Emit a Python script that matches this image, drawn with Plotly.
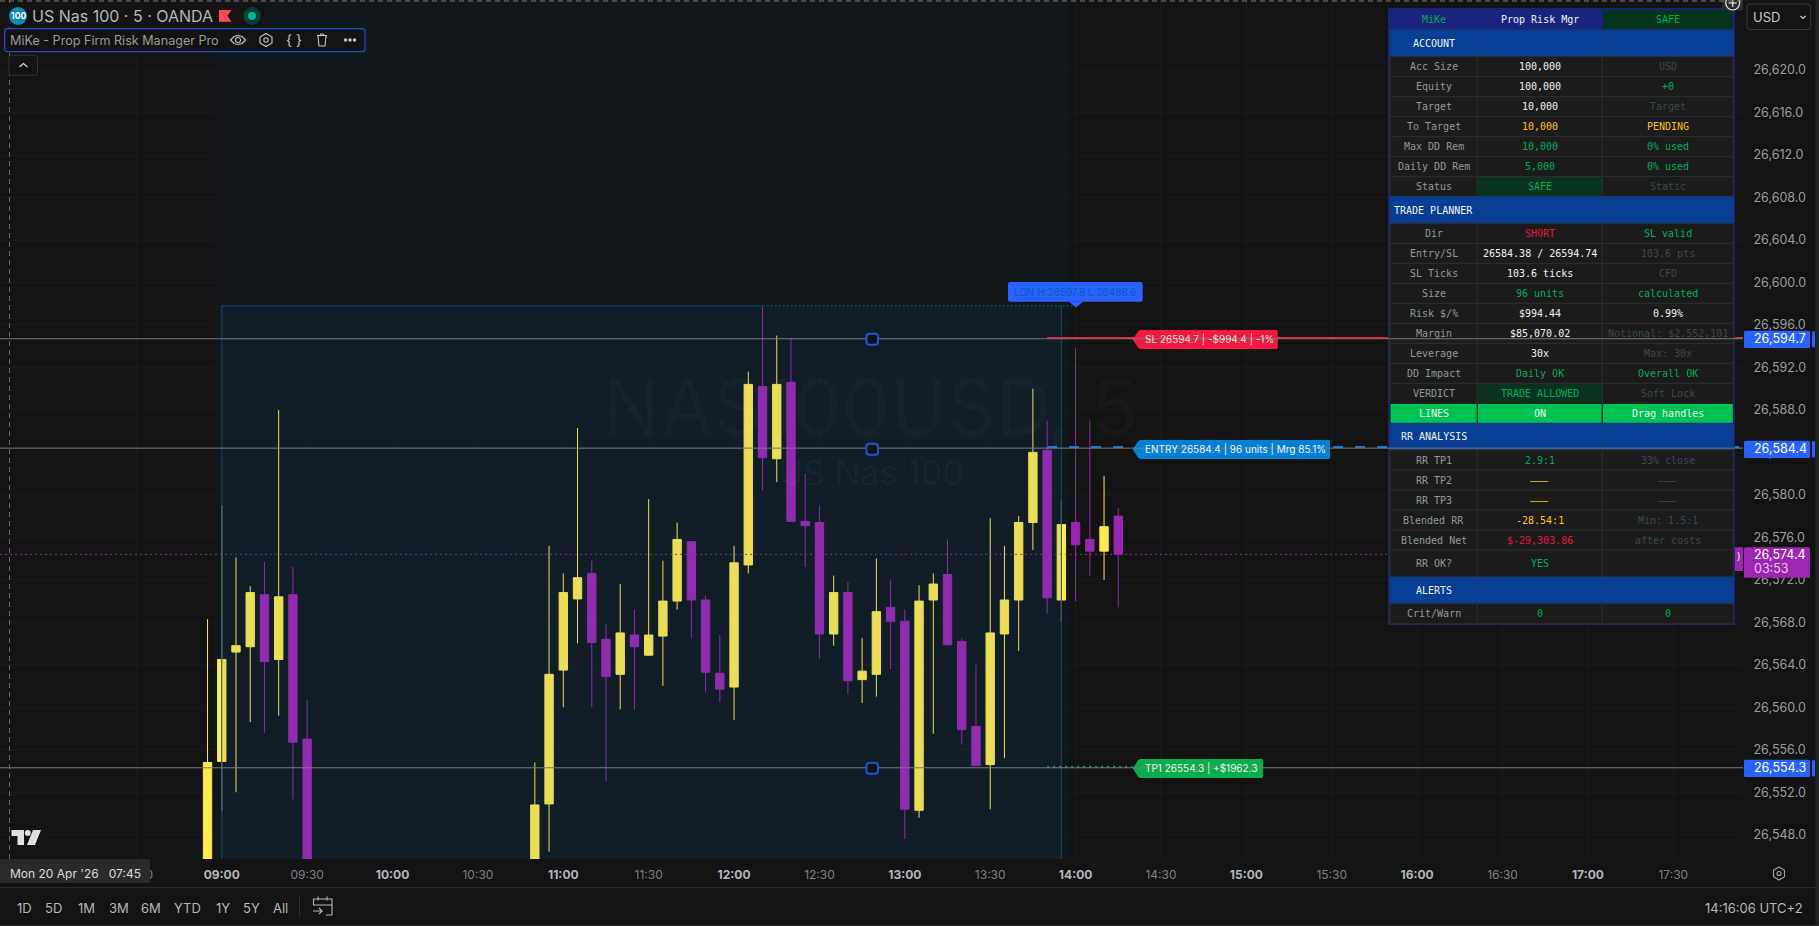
import plotly.graph_objects as go

bar_times = ["08:55","09:00","09:05","09:10","09:15","09:20","09:25","09:30",
 "10:50","10:55","11:00","11:05","11:10","11:15","11:20","11:25","11:30","11:35","11:40","11:45","11:50","11:55",
 "12:00","12:05","12:10","12:15","12:20","12:25","12:30","12:35","12:40","12:45","12:50","12:55",
 "13:00","13:05","13:10","13:15","13:20","13:25","13:30","13:35","13:40","13:45","13:50","13:55",
 "14:00","14:05","14:10","14:15"]
opens = [26543.8,26554.9,26565.2,26565.7,26570.6,26564.5,26570.6,26557.0,
 26543.8,26550.9,26563.5,26570.2,26572.6,26566.4,26563.1,26566.8,26564.9,26566.7,26570.0,26575.6,26570.1,26563.2,
 26561.9,26573.4,26590.2,26583.4,26590.6,26577.5,26577.4,26566.9,26570.8,26562.6,26563.1,26569.4,
 26568.1,26550.3,26570.1,26572.5,26566.2,26558.2,26554.6,26566.9,26570.1,26577.4,26584.2,26570.1,
 26577.4,26575.8,26574.7,26578.0]
highs = [26568.3,26579.0,26574.1,26571.4,26573.7,26588.0,26573.2,26560.7,
 26554.8,26575.2,26572.6,26586.3,26573.8,26567.8,26571.6,26569.2,26579.6,26573.8,26577.4,26575.6,26570.5,26566.8,
 26575.2,26591.6,26597.7,26595.0,26594.8,26582.0,26579.0,26572.4,26571.8,26566.5,26574.0,26572.0,
 26569.2,26571.5,26572.6,26575.8,26566.5,26564.0,26577.8,26575.2,26578.0,26590.0,26587.0,26579.5,
 26593.8,26587.0,26581.8,26578.8]
lows = [26543.0,26550.2,26552.0,26558.6,26557.6,26559.2,26551.3,26543.0,
 26543.0,26546.4,26560.0,26566.0,26560.0,26553.0,26559.8,26559.8,26564.9,26562.0,26569.2,26566.5,26561.4,26560.5,
 26558.8,26572.6,26580.4,26581.2,26577.5,26573.2,26564.6,26565.8,26561.2,26560.4,26561.0,26563.6,
 26547.6,26549.6,26557.5,26565.8,26556.5,26554.5,26550.4,26555.2,26565.3,26574.8,26568.8,26568.0,
 26570.0,26572.4,26572.0,26569.4]
closes = [26554.8,26564.5,26565.8,26570.8,26564.3,26570.4,26556.7,26543.8,
 26550.8,26563.1,26570.8,26572.2,26566.1,26562.9,26567.0,26565.7,26566.8,26570.0,26575.8,26570.1,26563.3,26561.7,
 26573.6,26590.4,26583.5,26590.4,26577.5,26577.1,26566.9,26570.8,26562.5,26563.4,26569.0,26568.1,
 26550.4,26570.0,26571.6,26565.9,26557.9,26554.5,26567.0,26570.1,26577.4,26584.0,26570.3,26577.2,
 26575.3,26574.7,26577.0,26574.4]
time_ticks = ["08:30","09:00","09:30","10:00","10:30","11:00","11:30","12:00","12:30","13:00","13:30",
              "14:00","14:30","15:00","15:30","16:00","16:30","17:00","17:30"]
price_ticks = [26548,26552,26556,26560,26564,26568,26572,26576,26580,26584,26588,26592,26596,26600,26604,26608,26612,26616,26620]
price_sl, price_entry, price_tp, price_last = 26594.7, 26584.4, 26554.3, 26574.4
session_high, session_low = 26597.8, 26486.6

row_labels = ["MiKe","ACCOUNT","Acc Size","Equity","Target","To Target","Max DD Rem","Daily DD Rem","Status",
 "TRADE PLANNER","Dir","Entry/SL","SL Ticks","Size","Risk $/%","Margin","Leverage","DD Impact","VERDICT","LINES",
 "RR ANALYSIS","RR TP1","RR TP2","RR TP3","Blended RR","Blended Net","RR OK?","ALERTS","Crit/Warn"]
row_values = ["Prop Risk Mgr","","100,000","100,000","10,000","10,000","10,000","5,000","SAFE",
 "","SHORT","26584.38 / 26594.74","103.6 ticks","96 units","$994.44","$85,070.02","30x","Daily OK","TRADE ALLOWED","ON",
 "","2.9:1","———","———","-28.54:1","$-29,303.86","YES","","0"]
row_notes = ["SAFE","","USD","+0","Target","PENDING","0% used","0% used","Static",
 "","SL valid","103.6 pts","CFD","calculated","0.99%","Notional: $2,552,101","Max: 30x","Overall OK","Soft Lock","Drag handles",
 "","33% close","———","———","Min: 1.5:1","after costs","","","0"]
row_kinds = ["title","section"]+["normal"]*7+["section"]+["normal"]*9+["lines","section"]+["normal"]*5+["tall","section","normal"]
value_colors = ["w","w","w","w","w","y","g","g","g","w","r","w","w","g","w","w","w","g","g","w","w","g","y","y","y","r","g","w","g"]
note_colors = ["g","w","d","g","d","y","g","g","d","w","g","d","d","g","w","d","d","g","d","w","w","d","d","d","d","d","d","w","g"]

W, H = 1819, 926
PW, PH = 1743, 859
BG = "#131313"
UI = "Inter, Roboto, sans-serif"
MONO = "DejaVu Sans Mono, monospace"
DAY = "2026-04-20 "
COL = {"w":"#F2F2F2","y":"#FFC21A","g":"#00AE52","r":"#E8163C","d":"#3A4A54"}

def X(p): return p/W
def Y(p): return 1-p/H

shapes, notes = [], []

def rect(x0,y0,x1,y1,fill,line=None,lw=1):
    shapes.append(dict(type="rect",xref="paper",yref="paper",x0=X(x0),y0=Y(y0),x1=X(x1),y1=Y(y1),layer="above",
                       fillcolor=fill,line=dict(color=line or "rgba(0,0,0,0)",width=lw if line else 0)))
def circ(cx,cy,r,fill="rgba(0,0,0,0)",line=None,lw=1):
    shapes.append(dict(type="circle",xref="paper",yref="paper",x0=X(cx-r),y0=Y(cy-r),x1=X(cx+r),y1=Y(cy+r),layer="above",
                       fillcolor=fill,line=dict(color=line or "rgba(0,0,0,0)",width=lw if line else 0)))
def poly(pts,fill="rgba(0,0,0,0)",line=None,lw=1,closed=True):
    d="M"+" L".join(f"{X(a):.6f},{Y(b):.6f}" for a,b in pts)+(" Z" if closed else "")
    shapes.append(dict(type="path",xref="paper",yref="paper",path=d,layer="above",fillcolor=fill,
                       line=dict(color=line or "rgba(0,0,0,0)",width=lw if line else 0)))
def rrect(x0,y0,x1,y1,r,fill,line=None,lw=1):
    P=lambda a,b:f"{X(a):.6f},{Y(b):.6f}"
    d=(f"M{P(x0+r,y0)} L{P(x1-r,y0)} Q{P(x1,y0)} {P(x1,y0+r)} L{P(x1,y1-r)} Q{P(x1,y1)} {P(x1-r,y1)} "
       f"L{P(x0+r,y1)} Q{P(x0,y1)} {P(x0,y1-r)} L{P(x0,y0+r)} Q{P(x0,y0)} {P(x0+r,y0)} Z")
    shapes.append(dict(type="path",xref="paper",yref="paper",path=d,layer="above",fillcolor=fill,
                       line=dict(color=line or "rgba(0,0,0,0)",width=lw if line else 0)))
def txt(px,py,s,size,color,anchor="left",family=UI):
    notes.append(dict(xref="paper",yref="paper",x=X(px),y=Y(py),text=s,showarrow=False,xanchor=anchor,yanchor="middle",
                      font=dict(size=size,color=color,family=family),borderpad=0))
def hline(y,x0,x1,color,width=1,dash="solid",layer="above"):
    shapes.append(dict(type="line",xref="x",yref="y",x0=x0,x1=x1,y0=y,y1=y,layer=layer,line=dict(color=color,width=width,dash=dash)))

t_left, t_right = DAY+"07:42:05", DAY+"17:54:30"

# session shading and box
shapes.append(dict(type="rect",xref="x",yref="paper",x0=DAY+"08:57:30",x1=DAY+"13:57:30",y0=Y(PH),y1=1,layer="below",
                   fillcolor="#10181B",line=dict(width=0)))
shapes.append(dict(type="rect",xref="x",yref="y",x0=DAY+"09:00",x1=DAY+"13:55",y0=session_low,y1=session_high,layer="above",
                   fillcolor="rgba(40,110,190,0.085)",line=dict(width=0)))
for t in ("09:00","13:55"):
    shapes.append(dict(type="line",xref="x",yref="y",x0=DAY+t,x1=DAY+t,y0=session_low,y1=session_high,layer="above",
                       line=dict(color="#0D4A75",width=1)))
hline(session_high,DAY+"09:00",DAY+"12:10","#0D4A75")
hline(session_high,DAY+"12:10",DAY+"14:00","#0D5F96",1,"2px,2px")

# price and trade lines
hline(price_last,t_left,t_right,"#8E2AA0",1,"2px,3px")
hline(price_sl+0.08,DAY+"13:50",t_right,"#F2173F",2)
hline(price_entry+0.1,DAY+"13:50",t_right,"#0C7EDB",2,"10px,12px")
hline(price_tp+0.1,DAY+"13:50",DAY+"14:20","#0F9D58",2,"2px,4px")

# risk panel
rect(1388,8,1735,625,"#1A237E")
colx=[1390,1477.3,1602.3,1733.3]
centers=[(colx[i]+colx[i+1])/2 for i in range(3)]
height={"title":20.7,"section":26.7,"normal":20,"lines":20,"tall":27}
y=9.3
for lab,val,note,kind,vc,nc in zip(row_labels,row_values,row_notes,row_kinds,value_colors,note_colors):
    h=height[kind]
    fills=["#1C1C1C"]*3
    edge="#2E2E2E"
    lc,vcol,ncol="#8E9A9A",COL[vc],COL[nc]
    if kind=="title":
        fills=["#1A237E","#1A237E","#06351F"]; edge="#1A237E"; lc=COL["g"]
    elif kind=="section":
        fills=["#063F94"]*3; edge="#173B78"; lc="#F2F2F2"
    elif kind=="lines":
        fills=["#00C255"]*3; edge="#1C1C1C"; lc=vcol=ncol="#F2F2F2"
    if val in ("SAFE","TRADE ALLOWED"):
        fills[1]="#0A3322"
    for i in range(3):
        rect(colx[i],y,colx[i+1],y+h,fills[i],edge,1)
    cy=y+h/2
    txt(centers[0],cy,lab,10,lc,"center",MONO)
    if val: txt(centers[1],cy,val,10,vcol,"center",MONO)
    if note: txt(centers[2],cy,note,10,ncol,"center",MONO)
    y+=h

# trade labels
def tag(x1,y0,y1,fill):
    poly([(1132.7,(y0+y1)/2),(1138,y0+1.5),(1140,y0),(x1-1,y0),(x1,y0+1),(x1,y1-1),(x1-1,y1),(1140,y1),(1138,y1-1.5)],fill)
tag(1277.7,330,349,"#F5173F"); txt(1143.5,338.8,"SL 26594.7 | -$994.4 | -1%",10,"#F5E6E8")
tag(1330,440,459,"#0480D8"); txt(1143.5,449,"ENTRY 26584.4 | 96 units | Mrg 85.1%",10,"#E6F2FA")
tag(1263,759,778,"#09AD50"); txt(1143.5,768.3,"TP1 26554.3 | +$1962.3",10,"#E6F5EC")
rrect(1008,282,1142.7,301.7,2,"#2962FF")
poly([(1069,301.7),(1083,301.7),(1076,307.5)],"#2962FF")
txt(1012.7,292,"LDN H:26597.8 L:26486.6",10,"#005FB8")

# horizontal tool lines and handles
for p in (price_sl,price_entry,price_tp):
    hline(p,t_left,t_right,"#7A7A7A",1)
for py in (339.3,449.3,768.3):
    rrect(866.5,py-5.5,878,py+5.5,3,BG,"#1A55D6",2)

# axis panel badges
for p,py in ((price_sl,339.3),(price_entry,449.3),(price_tp,768.3)):
    rrect(1744,py-8.6,1810,py+8.6,1.5,"#2962FF")
    rect(1812,py-8,1815,py+8,"#2962FF")
    txt(1752.7,py-1,f"{p:,.1f}",12.5,"#FFFFFF")
rect(1735,547.3,1743,571,"#9C27B0")
txt(1736,555.5,")",10,"#F0F0F0")
rrect(1744,547.3,1810,577.7,1.5,"#9C27B0")
txt(1752.7,554.5,f"{price_last:,.1f}",12.5,"#FFFFFF")
txt(1752.7,568.5,"03:53",12.5,"#E5C8EA")

# add-alert button
rect(1722,0,1743,10.5,"#2C2C2C")
circ(1732.7,3,7,"rgba(0,0,0,0)","#E6E6E6",1.2)
poly([(1732.7,-1),(1732.7,7)],line="#E6E6E6",lw=1.2,closed=False)
poly([(1728.7,3),(1736.7,3)],line="#E6E6E6",lw=1.2,closed=False)

# crosshair
shapes.append(dict(type="line",xref="paper",yref="paper",x0=X(9.5),x1=X(9.5),y0=Y(PH),y1=1,layer="above",
                   line=dict(color="#6A6A6A",width=1,dash="5px,4px")))
shapes.append(dict(type="line",xref="paper",yref="paper",x0=0,x1=X(PW),y0=Y(1),y1=Y(1),layer="above",
                   line=dict(color="#7A7A7A",width=1,dash="5px,4px")))

# watermark
txt(870.5,407,"NAS100USD, 5",76.5,"rgba(255,255,255,0.025)","center")
txt(871,472,"US Nas 100",34,"rgba(255,255,255,0.03)","center")

# top-left header
rect(5,3,265,27,BG)
circ(18,16,9,"#0F88BC")
txt(18,16.3,"<b>100</b>",8.5,"#FFFFFF","center")
txt(31,16,"US Nas 100 · 5 · OANDA",16,"#B4B7BE")
poly([(219,10),(231.5,10),(227.5,15.8),(231.5,21.7),(219,21.7)],"#FF4A52")
circ(252,16,9,"#0E3B33")
circ(252,16,4,"#00B894")
rrect(4.6,28.7,365,51.7,3,BG,"#1C4FD0",1.2)
txt(9,40,"MiKe - Prop Firm Risk Manager Pro",12.6,"#9A9A9A")
ICON="#C4C4C4"
poly([(230.5,40),(234,36.5),(238,35.5),(242,36.5),(245.5,40),(242,43.5),(238,44.5),(234,43.5)],line=ICON,lw=1.1)
circ(238,40,2.5,line=ICON,lw=1.1)
poly([(266,33.5),(272,37),(272,43),(266,46.5),(260,43),(260,37)],line=ICON,lw=1.1)
circ(266,40,2.2,line=ICON,lw=1.1)
txt(294,39.3,"{ }",14,ICON,"center")
poly([(317,35.5),(327,35.5)],line=ICON,lw=1.1,closed=False)
poly([(320,35.5),(320.7,34),(323.3,34),(324,35.5)],line=ICON,lw=1.1,closed=False)
poly([(318,36),(319,46),(325,46),(326,36)],line=ICON,lw=1.1,closed=False)
for cx in (345.5,350,354.5):
    circ(cx,40,1.8,ICON)
rrect(9,55.3,37.5,75.3,2.5,BG,"#333333",1)
poly([(19.5,67),(23.5,63.5),(27.5,67)],line="#D8D8D8",lw=1.2,closed=False)

# right-hand controls
rrect(1747,4,1810.7,29.5,3,BG,"#3A3A3A",1)
txt(1751.7,16.5,"USD",13,"#C8C8C8")
poly([(1800.5,16),(1803,18.5),(1805.5,16)],line="#C8C8C8",lw=1.2,closed=False)
rect(1815.5,0,1819,926,"#242424")

# TradingView mark
poly([(11.5,830),(24,830),(24,845),(17.5,845),(17.5,836),(11.5,836)],"#E0E0E0")
circ(27.8,833,3,"#E0E0E0")
poly([(33,830),(41,830),(35,845),(27,845)],"#E0E0E0")

# date badge
rrect(-3,859,150,883,2,"#2A2A2A")
txt(75,873.2,"Mon 20 Apr '26   07:45",12,"#DADADA","center")
poly([(1779,867),(1784.5,870.3),(1784.5,876.7),(1779,880),(1773.5,876.7),(1773.5,870.3)],line="#A0A0A0",lw=1.1)
circ(1779,873.5,2,line="#A0A0A0",lw=1.1)

# bottom toolbar
rect(0,887,1815.5,888,"#2A2A2A")
rect(0,925,1819,926,"#2A2A2A")
for s,px in zip(["1D","5D","1M","3M","6M","YTD","1Y","5Y","All"],[24,53.4,86,119,151,187.7,222.7,252,280.7]):
    txt(px,907.5,s,13,"#B4B7BE","center")
rect(299.2,896,300,918,"#333333")
poly([(317,899),(313.5,899),(313.5,905),(332,905),(332,899),(328.5,899)],line="#B4B7BE",lw=1.1,closed=False)
poly([(332,905),(332,915),(326,915)],line="#B4B7BE",lw=1.1,closed=False)
poly([(317,899),(328.5,899)],line="#B4B7BE",lw=1.1,closed=False)
poly([(318,896.5),(318,900.5)],line="#B4B7BE",lw=1.1,closed=False)
poly([(327,896.5),(327,900.5)],line="#B4B7BE",lw=1.1,closed=False)
poly([(313,911),(322,911),(319,908),(322,911),(319,914)],line="#B4B7BE",lw=1.1,closed=False)
txt(1804,907.5,"14:16:06 UTC+2",13,"#B4B7BE","right")

ticktext=[f"<b>{t}</b>" if t.endswith(":00") else f'<span style="color:#7E8086">{t}</span>' for t in time_ticks]

fig=go.Figure(go.Candlestick(
    x=[DAY+t for t in bar_times],open=opens,high=highs,low=lows,close=closes,
    increasing=dict(line=dict(color="#FFE94F",width=1),fillcolor="#FFE94F"),
    decreasing=dict(line=dict(color="#9A27AE",width=1),fillcolor="#9A27AE"),
    whiskerwidth=0,hoverinfo="skip",showlegend=False))
fig.update_layout(
    width=W,height=H,margin=dict(l=0,r=0,t=0,b=0),autosize=False,
    paper_bgcolor=BG,plot_bgcolor=BG,showlegend=False,boxgap=0.16,
    font=dict(family=UI,color="#B4B7BE",size=12),
    shapes=shapes,annotations=notes,
    xaxis=dict(type="date",domain=[0,PW/W],range=[t_left,t_right],rangeslider=dict(visible=False),
               tickmode="array",tickvals=[DAY+t for t in time_ticks],ticktext=ticktext,
               showgrid=True,gridcolor="#171A1C",gridwidth=1,zeroline=False,showline=False,
               ticks="outside",ticklen=5,tickcolor="rgba(0,0,0,0)",tickfont=dict(family=UI,size=12,color="#B4B7BE"),
               tickangle=0,automargin=False,anchor="y"),
    yaxis=dict(domain=[1-PH/H,1],range=[26545.71,26626.60],side="right",anchor="x",
               tickmode="array",tickvals=price_ticks,tickformat=",.1f",showgrid=True,gridcolor="#171A1C",zeroline=False,showline=False,
               ticks="outside",ticklen=7,tickcolor="rgba(0,0,0,0)",tickfont=dict(family=UI,size=12.5,color="#9C9C9C"),
               automargin=False),
)
fig.write_html("out.html",config=dict(displayModeBar=False,responsive=False),
               post_script="document.body.style.margin='0';document.body.style.background='#131313';document.documentElement.style.overflow='hidden';")
